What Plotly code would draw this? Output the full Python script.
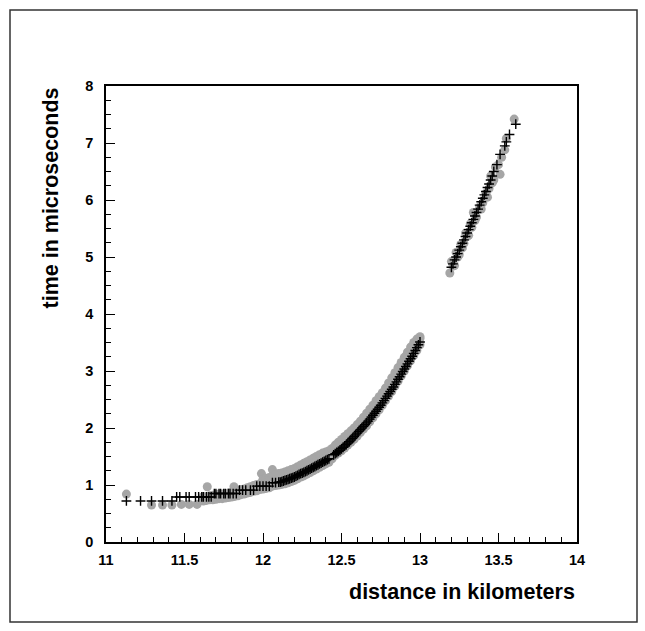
import plotly.graph_objects as go

# ---------------- data ----------------
# black "+" markers
cross_x = [11.13, 11.22, 11.29, 11.36, 11.42,
           11.45, 11.47, 11.51, 11.53, 11.57, 11.59, 11.61, 11.62, 11.64, 11.655, 11.67,
           11.69, 11.70, 11.72, 11.73, 11.75, 11.76, 11.78, 11.79, 11.81, 11.83,
           11.85, 11.87, 11.89, 11.92, 11.94,
           11.96, 11.98, 12.00, 12.02, 12.04,
           12.06, 12.08,
           12.10, 12.11, 12.12, 12.13, 12.14, 12.15, 12.16, 12.17, 12.18, 12.19,
           12.20, 12.21, 12.22, 12.23, 12.24, 12.25, 12.26, 12.27, 12.28, 12.29,
           12.30, 12.31, 12.32, 12.33, 12.34, 12.35, 12.36, 12.37, 12.38, 12.39,
           12.40, 12.41, 12.42,
           12.45, 12.46, 12.47, 12.48, 12.49,
           12.50, 12.51, 12.52, 12.53, 12.54, 12.55, 12.56, 12.57, 12.58, 12.59,
           12.60, 12.61, 12.62, 12.63, 12.64, 12.65, 12.66, 12.67, 12.68, 12.69,
           12.70, 12.71, 12.72, 12.73, 12.74, 12.75, 12.76, 12.77, 12.78, 12.79,
           12.80, 12.81, 12.82, 12.83, 12.84, 12.85, 12.86, 12.87, 12.88, 12.89,
           12.90, 12.91, 12.92, 12.93, 12.94, 12.95, 12.96, 12.97, 12.98, 12.99, 13.00,
           13.20, 13.21, 13.22, 13.23, 13.24, 13.25, 13.26, 13.27, 13.28, 13.29,
           13.30, 13.31, 13.32, 13.33, 13.34, 13.35, 13.36, 13.37, 13.38, 13.39,
           13.40, 13.41, 13.42, 13.43, 13.44, 13.45, 13.46, 13.47,
           13.49, 13.51, 13.54, 13.55, 13.57, 13.61]
cross_y = [0.72, 0.72, 0.72, 0.72, 0.72,
           0.79, 0.79, 0.79, 0.79, 0.79, 0.79, 0.79, 0.79, 0.79, 0.79, 0.79,
           0.85, 0.85, 0.85, 0.85, 0.85, 0.85, 0.85, 0.85, 0.85, 0.85,
           0.91, 0.91, 0.91, 0.91, 0.91,
           0.98, 0.98, 0.98, 0.98, 0.98,
           1.04, 1.04,
           1.05, 1.05, 1.06, 1.07, 1.08, 1.09, 1.10, 1.11, 1.12, 1.13,
           1.14, 1.155, 1.17, 1.185, 1.20, 1.21, 1.22, 1.235, 1.25, 1.265,
           1.28, 1.295, 1.31, 1.325, 1.34, 1.355, 1.37, 1.385, 1.40, 1.415,
           1.43, 1.445, 1.46,
           1.53, 1.55, 1.57, 1.59, 1.61,
           1.635, 1.66, 1.685, 1.71, 1.735, 1.76, 1.79, 1.82, 1.85, 1.88,
           1.91, 1.94, 1.97, 2.00, 2.03, 2.06, 2.09, 2.12, 2.155, 2.19,
           2.225, 2.26, 2.295, 2.33, 2.365, 2.40, 2.44, 2.48, 2.52, 2.56,
           2.60, 2.64, 2.68, 2.72, 2.765, 2.81, 2.855, 2.90, 2.945, 2.99,
           3.035, 3.08, 3.125, 3.17, 3.215, 3.26, 3.31, 3.36, 3.41, 3.46, 3.51,
           4.82, 4.88, 4.95, 5.00, 5.06, 5.12, 5.18, 5.24, 5.30, 5.36,
           5.42, 5.48, 5.54, 5.60, 5.66, 5.72, 5.78, 5.84, 5.91, 5.97,
           6.03, 6.09, 6.15, 6.22, 6.28, 6.35, 6.42, 6.50,
           6.62, 6.80, 6.95, 7.02, 7.15, 7.33]

# grey circles: isolated points
dot_x = [11.13, 11.29, 11.36, 11.42, 11.48, 11.53, 11.58, 11.645, 11.815, 11.99, 12.06]
dot_y = [0.84, 0.65, 0.65, 0.65, 0.66, 0.66, 0.66, 0.97, 0.97, 1.20, 1.27]

# grey circles: band around the lower curve (three circles per column)
band_x = [11.62, 11.64, 11.66, 11.68, 11.70, 11.72, 11.74, 11.76, 11.78, 11.80,
          11.82, 11.84, 11.86, 11.88, 11.90, 11.92, 11.94, 11.96, 11.98,
          12.00, 12.02, 12.04, 12.06, 12.08, 12.10, 12.12, 12.14, 12.16, 12.18,
          12.20, 12.22, 12.24, 12.26, 12.28, 12.30, 12.32, 12.34, 12.36, 12.38,
          12.40, 12.42, 12.44, 12.46, 12.48, 12.50, 12.52, 12.54, 12.56, 12.58,
          12.60, 12.62, 12.64, 12.66, 12.68, 12.70, 12.72, 12.74, 12.76, 12.78,
          12.80, 12.82, 12.84, 12.86, 12.88, 12.90, 12.92, 12.94, 12.96, 12.98, 13.00]
band_lo = [0.72, 0.73, 0.74, 0.74, 0.75, 0.76, 0.76, 0.77, 0.78, 0.79,
           0.80, 0.81, 0.83, 0.84, 0.86, 0.87, 0.89, 0.90, 0.92,
           0.93, 0.94, 0.95, 0.98, 0.99, 1.00, 1.01, 1.02, 1.04, 1.06,
           1.08, 1.11, 1.14, 1.16, 1.19, 1.22, 1.25, 1.28, 1.31, 1.34,
           1.37, 1.40, 1.46, 1.52, 1.56, 1.60, 1.65, 1.70, 1.75, 1.80,
           1.86, 1.92, 1.98, 2.04, 2.11, 2.18, 2.25, 2.32, 2.40, 2.48,
           2.56, 2.64, 2.73, 2.82, 2.91, 3.00, 3.09, 3.18, 3.27, 3.36, 3.46]
band_mid = [0.80, 0.79, 0.81, 0.82, 0.83, 0.84, 0.84, 0.85, 0.86, 0.87,
            0.88, 0.90, 0.92, 0.93, 0.95, 0.97, 0.99, 1.01, 1.02,
            1.04, 1.03, 1.05, 1.08, 1.10, 1.11, 1.12, 1.14, 1.15, 1.18,
            1.20, 1.23, 1.26, 1.28, 1.31, 1.34, 1.37, 1.40, 1.43, 1.46,
            1.49, 1.52, 1.58, 1.63, 1.67, 1.72, 1.77, 1.82, 1.87, 1.93,
            1.99, 2.05, 2.11, 2.18, 2.25, 2.32, 2.39, 2.46, 2.54, 2.62,
            2.70, 2.79, 2.88, 2.97, 3.06, 3.15, 3.24, 3.33, 3.42, 3.50, 3.57]
band_hi = [0.76, 0.77, 0.78, 0.79, 0.80, 0.80, 0.81, 0.82, 0.83, 0.84,
           0.85, 0.86, 0.88, 0.89, 0.91, 0.93, 0.95, 0.96, 0.98,
           1.10, 1.12, 1.13, 1.16, 1.18, 1.20, 1.21, 1.23, 1.25, 1.27,
           1.29, 1.32, 1.35, 1.38, 1.41, 1.44, 1.47, 1.50, 1.53, 1.56,
           1.58, 1.60, 1.64, 1.70, 1.75, 1.80, 1.85, 1.90, 1.95, 2.00,
           2.06, 2.12, 2.19, 2.26, 2.33, 2.40, 2.48, 2.55, 2.62, 2.70,
           2.79, 2.88, 2.97, 3.06, 3.15, 3.24, 3.33, 3.42, 3.50, 3.56, 3.60]

# grey circles: upper segment
up_x = [13.19, 13.20, 13.21, 13.22, 13.23, 13.24, 13.25, 13.26, 13.27, 13.28, 13.29, 13.30,
        13.31, 13.32, 13.33, 13.34, 13.35, 13.36, 13.38, 13.39, 13.40, 13.42, 13.43, 13.44,
        13.45, 13.46, 13.47, 13.48, 13.50, 13.51, 13.52, 13.54, 13.55, 13.60]
up_y = [4.72, 4.92, 4.84, 4.85, 5.08, 5.00, 5.04, 5.22, 5.16, 5.24, 5.42, 5.36,
        5.38, 5.58, 5.52, 5.78, 5.64, 5.70, 5.88, 5.84, 5.95, 6.12, 6.05, 6.20,
        6.42, 6.30, 6.35, 6.58, 6.62, 6.45, 6.75, 6.88, 7.08, 7.42]

x_ticks = [11, 11.5, 12, 12.5, 13, 13.5, 14]
x_labels = ["11", "11.5", "12", "12.5", "13", "13.5", "14"]
y_ticks = [0, 1, 2, 3, 4, 5, 6, 7, 8]

# ---------------- figure ----------------
circ_x = dot_x + band_x + band_x + band_x + up_x
circ_y = dot_y + band_lo + band_mid + band_hi + up_y

W, H = 645, 631
L, R, T, B = 106, 577, 86, 542

fig = go.Figure()
fig.add_trace(go.Scatter(x=circ_x, y=circ_y, mode="markers",
                         marker=dict(symbol="circle", size=9, color="#a6a6a6", line=dict(width=0)),
                         hoverinfo="skip", showlegend=False))
fig.add_trace(go.Scatter(x=cross_x, y=cross_y, mode="markers",
                         marker=dict(symbol="cross-thin", size=7, color="black",
                                     line=dict(width=1.4, color="black")),
                         hoverinfo="skip", showlegend=False))

FONT = "Liberation Sans, Arial, sans-serif"
tickfont = dict(family=FONT, size=14.5, color="black", weight="bold")
fig.update_layout(
    width=W, height=H,
    margin=dict(l=L, r=W - R, t=T, b=H - B, pad=0),
    paper_bgcolor="white", plot_bgcolor="white",
    xaxis=dict(range=[11, 14], tickvals=x_ticks, ticktext=x_labels, ticks="inside", ticklen=9,
               tickwidth=1, tickcolor="black", showline=True, linecolor="black", linewidth=1.5,
               mirror=True, showgrid=False, zeroline=False, tickfont=tickfont,
               ticklabelstandoff=4,
               minor=dict(dtick=0.1, tick0=11, ticks="inside", ticklen=5, tickwidth=1,
                          tickcolor="black", showgrid=False)),
    yaxis=dict(range=[0, 8], tickvals=y_ticks, ticks="inside", ticklen=9,
               tickwidth=1, tickcolor="black", showline=True, linecolor="black", linewidth=1.5,
               mirror=True, showgrid=False, zeroline=False, tickfont=tickfont,
               ticklabelstandoff=8,
               minor=dict(dtick=0.25, tick0=0, ticks="inside", ticklen=5, tickwidth=1,
                          tickcolor="black", showgrid=False)),
    shapes=[dict(type="rect", xref="paper", yref="paper",
                 x0=(10 - L) / (R - L), x1=(637 - L) / (R - L),
                 y0=(B - 622) / (B - T), y1=(B - 10) / (B - T),
                 line=dict(color="#333333", width=1.5), fillcolor="rgba(0,0,0,0)", layer="below")],
    annotations=[
        dict(text="distance in kilometers", xref="paper", yref="paper", x=1, y=(B - 592) / (B - T),
             xanchor="right", yanchor="middle", showarrow=False,
             font=dict(family=FONT, size=21.5, color="black", weight="bold")),
        dict(text="time in microseconds", xref="paper", yref="paper", x=(50 - L) / (R - L), y=1,
             xanchor="center", yanchor="top", textangle=-90, showarrow=False,
             font=dict(family=FONT, size=21.5, color="black", weight="bold")),
    ],
)

fig.write_html("out.html")
